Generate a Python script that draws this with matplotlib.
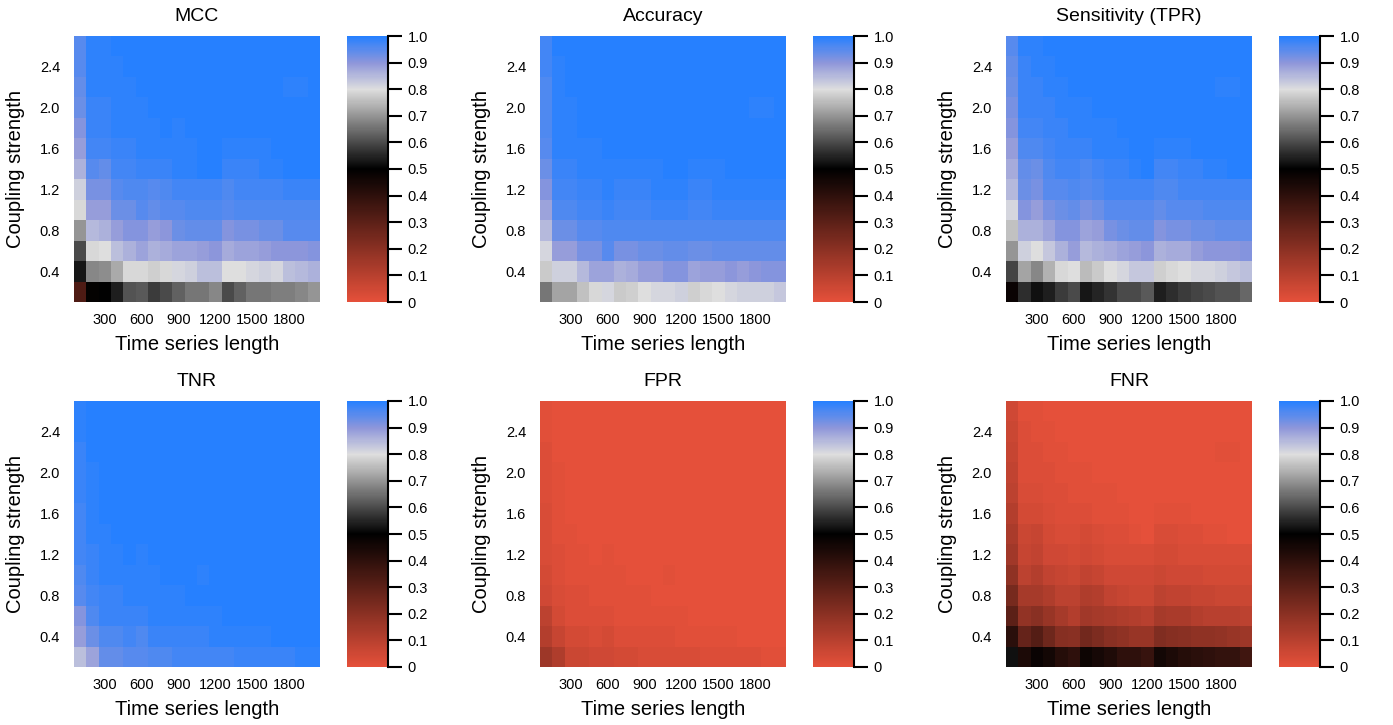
import numpy as np
import matplotlib
matplotlib.use("Agg")
import matplotlib.pyplot as plt
from matplotlib.colors import LinearSegmentedColormap

plt.rcParams['font.family'] = ['Liberation Sans', 'DejaVu Sans']

# time series length (columns) and coupling strength (rows)
lengths = [100, 200, 300, 400, 500, 600, 700, 800, 900, 1000,
           1100, 1200, 1300, 1400, 1500, 1600, 1700, 1800, 1900, 2000]
coupling = [0.2, 0.4, 0.6, 0.8, 1.0, 1.2, 1.4, 1.6, 1.8, 2.0, 2.2, 2.4, 2.6]
xtick_vals = [300, 600, 900, 1200, 1500, 1800]
ytick_vals = [0.4, 0.8, 1.2, 1.6, 2.0, 2.4]
cbar_ticks = [0, 0.1, 0.2, 0.3, 0.4, 0.5, 0.6, 0.7, 0.8, 0.9, 1.0]
cbar_labels = ['0', '0.1', '0.2', '0.3', '0.4', '0.5', '0.6', '0.7', '0.8', '0.9', '1.0']

# rows listed top (coupling 2.6) to bottom (coupling 0.2)
mcc = [
    [0.95, 0.99, 0.99, 1.00, 1.00, 1.00, 1.00, 1.00, 1.00, 1.00, 1.00, 1.00, 1.00, 1.00, 1.00, 1.00, 1.00, 1.00, 1.00, 1.00],
    [0.95, 0.99, 0.99, 0.99, 1.00, 1.00, 1.00, 1.00, 1.00, 1.00, 1.00, 1.00, 1.00, 1.00, 1.00, 1.00, 1.00, 1.00, 1.00, 1.00],
    [0.94, 0.99, 0.99, 0.99, 0.99, 1.00, 1.00, 1.00, 1.00, 1.00, 1.00, 1.00, 1.00, 1.00, 1.00, 1.00, 1.00, 0.99, 0.99, 1.00],
    [0.93, 0.98, 0.98, 0.99, 0.99, 0.99, 1.00, 1.00, 1.00, 1.00, 1.00, 1.00, 1.00, 1.00, 1.00, 1.00, 1.00, 1.00, 1.00, 1.00],
    [0.91, 0.98, 0.98, 0.99, 0.99, 0.99, 0.99, 1.00, 0.99, 1.00, 1.00, 1.00, 1.00, 1.00, 1.00, 1.00, 1.00, 1.00, 1.00, 1.00],
    [0.89, 0.97, 0.97, 0.98, 0.98, 0.99, 0.99, 0.99, 0.99, 0.99, 1.00, 1.00, 0.99, 0.99, 0.99, 0.99, 1.00, 1.00, 1.00, 1.00],
    [0.86, 0.95, 0.94, 0.97, 0.97, 0.98, 0.98, 0.98, 0.99, 0.99, 1.00, 1.00, 0.98, 0.98, 0.98, 0.99, 0.99, 1.00, 1.00, 1.00],
    [0.82, 0.92, 0.92, 0.95, 0.96, 0.96, 0.95, 0.96, 0.97, 0.97, 0.97, 0.97, 0.96, 0.97, 0.97, 0.97, 0.97, 0.98, 0.98, 0.98],
    [0.79, 0.89, 0.89, 0.93, 0.93, 0.95, 0.94, 0.95, 0.95, 0.96, 0.96, 0.96, 0.95, 0.96, 0.96, 0.96, 0.96, 0.96, 0.96, 0.96],
    [0.70, 0.85, 0.86, 0.89, 0.91, 0.91, 0.89, 0.90, 0.93, 0.94, 0.94, 0.94, 0.91, 0.92, 0.92, 0.93, 0.93, 0.95, 0.95, 0.95],
    [0.60, 0.79, 0.80, 0.84, 0.86, 0.88, 0.86, 0.87, 0.88, 0.88, 0.89, 0.90, 0.87, 0.88, 0.88, 0.89, 0.90, 0.90, 0.90, 0.91],
    [0.53, 0.68, 0.69, 0.73, 0.79, 0.79, 0.78, 0.79, 0.81, 0.82, 0.84, 0.84, 0.80, 0.80, 0.81, 0.82, 0.81, 0.84, 0.85, 0.86],
    [0.33, 0.49, 0.50, 0.54, 0.61, 0.62, 0.58, 0.60, 0.63, 0.66, 0.66, 0.68, 0.60, 0.63, 0.66, 0.66, 0.67, 0.67, 0.68, 0.70],
]

accuracy = [
    [0.97, 1.00, 1.00, 1.00, 1.00, 1.00, 1.00, 1.00, 1.00, 1.00, 1.00, 1.00, 1.00, 1.00, 1.00, 1.00, 1.00, 1.00, 1.00, 1.00],
    [0.97, 0.99, 1.00, 1.00, 1.00, 1.00, 1.00, 1.00, 1.00, 1.00, 1.00, 1.00, 1.00, 1.00, 1.00, 1.00, 1.00, 1.00, 1.00, 1.00],
    [0.96, 0.99, 1.00, 1.00, 1.00, 1.00, 1.00, 1.00, 1.00, 1.00, 1.00, 1.00, 1.00, 1.00, 1.00, 1.00, 1.00, 1.00, 1.00, 1.00],
    [0.96, 0.99, 0.99, 1.00, 1.00, 1.00, 1.00, 1.00, 1.00, 1.00, 1.00, 1.00, 1.00, 1.00, 1.00, 1.00, 1.00, 0.99, 0.99, 1.00],
    [0.96, 0.99, 0.99, 1.00, 1.00, 1.00, 1.00, 1.00, 1.00, 1.00, 1.00, 1.00, 1.00, 1.00, 1.00, 1.00, 1.00, 1.00, 1.00, 1.00],
    [0.95, 0.99, 0.99, 0.99, 0.99, 1.00, 1.00, 1.00, 1.00, 1.00, 1.00, 1.00, 1.00, 1.00, 1.00, 1.00, 1.00, 1.00, 1.00, 1.00],
    [0.93, 0.98, 0.98, 0.99, 0.99, 0.99, 0.99, 0.99, 0.99, 0.99, 1.00, 1.00, 0.99, 0.99, 0.99, 1.00, 1.00, 1.00, 1.00, 1.00],
    [0.91, 0.97, 0.97, 0.98, 0.98, 0.99, 0.98, 0.98, 0.98, 0.99, 0.99, 0.99, 0.98, 0.98, 0.99, 0.99, 0.99, 0.99, 0.99, 0.99],
    [0.88, 0.96, 0.96, 0.97, 0.97, 0.98, 0.97, 0.97, 0.97, 0.98, 0.98, 0.98, 0.97, 0.97, 0.98, 0.98, 0.98, 0.98, 0.98, 0.98],
    [0.85, 0.93, 0.93, 0.95, 0.95, 0.96, 0.96, 0.96, 0.96, 0.96, 0.96, 0.96, 0.96, 0.96, 0.96, 0.96, 0.96, 0.96, 0.96, 0.96],
    [0.81, 0.89, 0.89, 0.92, 0.92, 0.95, 0.92, 0.92, 0.93, 0.93, 0.94, 0.94, 0.93, 0.93, 0.94, 0.94, 0.94, 0.94, 0.94, 0.94],
    [0.77, 0.82, 0.82, 0.85, 0.88, 0.88, 0.86, 0.87, 0.89, 0.89, 0.91, 0.91, 0.88, 0.89, 0.89, 0.90, 0.89, 0.90, 0.91, 0.91],
    [0.66, 0.72, 0.72, 0.76, 0.79, 0.81, 0.77, 0.78, 0.80, 0.81, 0.81, 0.82, 0.78, 0.79, 0.80, 0.81, 0.82, 0.82, 0.82, 0.83],
]

tpr = [
    [0.95, 0.99, 0.99, 1.00, 1.00, 1.00, 1.00, 1.00, 1.00, 1.00, 1.00, 1.00, 1.00, 1.00, 1.00, 1.00, 1.00, 1.00, 1.00, 1.00],
    [0.94, 0.98, 0.99, 0.99, 1.00, 1.00, 1.00, 1.00, 1.00, 1.00, 1.00, 1.00, 1.00, 1.00, 1.00, 1.00, 1.00, 1.00, 1.00, 1.00],
    [0.93, 0.98, 0.98, 0.99, 0.99, 1.00, 1.00, 1.00, 1.00, 1.00, 1.00, 1.00, 1.00, 1.00, 1.00, 1.00, 1.00, 0.99, 0.99, 1.00],
    [0.92, 0.98, 0.98, 0.98, 0.99, 0.99, 0.99, 1.00, 1.00, 1.00, 1.00, 1.00, 1.00, 1.00, 1.00, 1.00, 1.00, 1.00, 1.00, 1.00],
    [0.91, 0.97, 0.97, 0.98, 0.98, 0.99, 0.99, 0.99, 0.99, 1.00, 1.00, 1.00, 1.00, 1.00, 1.00, 1.00, 1.00, 1.00, 1.00, 1.00],
    [0.89, 0.96, 0.96, 0.97, 0.98, 0.98, 0.98, 0.99, 0.99, 0.99, 1.00, 1.00, 0.99, 0.99, 0.99, 1.00, 1.00, 1.00, 1.00, 1.00],
    [0.87, 0.94, 0.93, 0.96, 0.97, 0.97, 0.96, 0.97, 0.98, 0.98, 0.99, 1.00, 0.97, 0.97, 0.98, 0.98, 0.99, 0.99, 1.00, 1.00],
    [0.85, 0.93, 0.92, 0.95, 0.95, 0.96, 0.95, 0.96, 0.97, 0.97, 0.97, 0.97, 0.96, 0.96, 0.97, 0.97, 0.97, 0.97, 0.97, 0.97],
    [0.81, 0.91, 0.89, 0.92, 0.93, 0.94, 0.92, 0.93, 0.95, 0.95, 0.95, 0.95, 0.94, 0.95, 0.95, 0.95, 0.96, 0.96, 0.96, 0.96],
    [0.76, 0.86, 0.86, 0.88, 0.91, 0.91, 0.88, 0.89, 0.92, 0.93, 0.94, 0.94, 0.91, 0.92, 0.92, 0.93, 0.93, 0.94, 0.94, 0.94],
    [0.70, 0.82, 0.80, 0.83, 0.86, 0.89, 0.85, 0.86, 0.87, 0.88, 0.89, 0.90, 0.86, 0.87, 0.87, 0.89, 0.90, 0.90, 0.90, 0.91],
    [0.59, 0.72, 0.68, 0.74, 0.79, 0.80, 0.75, 0.77, 0.80, 0.81, 0.83, 0.83, 0.78, 0.79, 0.80, 0.81, 0.81, 0.82, 0.83, 0.84],
    [0.48, 0.56, 0.52, 0.54, 0.58, 0.60, 0.53, 0.55, 0.57, 0.60, 0.60, 0.62, 0.54, 0.56, 0.58, 0.59, 0.60, 0.61, 0.61, 0.64],
]

tnr = [
    [0.99, 1.00, 1.00, 1.00, 1.00, 1.00, 1.00, 1.00, 1.00, 1.00, 1.00, 1.00, 1.00, 1.00, 1.00, 1.00, 1.00, 1.00, 1.00, 1.00],
    [0.99, 1.00, 1.00, 1.00, 1.00, 1.00, 1.00, 1.00, 1.00, 1.00, 1.00, 1.00, 1.00, 1.00, 1.00, 1.00, 1.00, 1.00, 1.00, 1.00],
    [0.98, 1.00, 1.00, 1.00, 1.00, 1.00, 1.00, 1.00, 1.00, 1.00, 1.00, 1.00, 1.00, 1.00, 1.00, 1.00, 1.00, 1.00, 1.00, 1.00],
    [0.98, 0.99, 1.00, 1.00, 1.00, 1.00, 1.00, 1.00, 1.00, 1.00, 1.00, 1.00, 1.00, 1.00, 1.00, 1.00, 1.00, 1.00, 1.00, 1.00],
    [0.98, 0.99, 1.00, 1.00, 1.00, 1.00, 1.00, 1.00, 1.00, 1.00, 1.00, 1.00, 1.00, 1.00, 1.00, 1.00, 1.00, 1.00, 1.00, 1.00],
    [0.97, 0.99, 1.00, 1.00, 1.00, 1.00, 1.00, 1.00, 1.00, 1.00, 1.00, 1.00, 1.00, 1.00, 1.00, 1.00, 1.00, 1.00, 1.00, 1.00],
    [0.97, 0.99, 0.99, 1.00, 1.00, 1.00, 1.00, 1.00, 1.00, 1.00, 1.00, 1.00, 1.00, 1.00, 1.00, 1.00, 1.00, 1.00, 1.00, 1.00],
    [0.97, 0.98, 0.99, 0.99, 1.00, 0.99, 1.00, 1.00, 1.00, 1.00, 1.00, 1.00, 1.00, 1.00, 1.00, 1.00, 1.00, 1.00, 1.00, 1.00],
    [0.96, 0.98, 0.99, 0.99, 0.99, 0.99, 0.99, 1.00, 1.00, 1.00, 0.99, 1.00, 1.00, 1.00, 1.00, 1.00, 1.00, 1.00, 1.00, 1.00],
    [0.95, 0.97, 0.98, 0.98, 0.99, 0.99, 0.99, 0.99, 0.99, 1.00, 1.00, 1.00, 1.00, 1.00, 1.00, 1.00, 1.00, 1.00, 1.00, 1.00],
    [0.91, 0.96, 0.98, 0.98, 0.98, 0.98, 0.99, 0.99, 0.99, 0.99, 0.99, 0.99, 1.00, 1.00, 1.00, 1.00, 1.00, 1.00, 1.00, 1.00],
    [0.89, 0.93, 0.96, 0.96, 0.97, 0.96, 0.98, 0.98, 0.98, 0.98, 0.98, 0.99, 0.99, 0.99, 0.99, 0.99, 1.00, 1.00, 1.00, 1.00],
    [0.84, 0.88, 0.94, 0.94, 0.95, 0.95, 0.96, 0.96, 0.97, 0.97, 0.97, 0.97, 0.97, 0.98, 0.98, 0.98, 0.98, 0.98, 0.99, 0.99],
]

fpr = [
    [0.01, 0.00, 0.00, 0.00, 0.00, 0.00, 0.00, 0.00, 0.00, 0.00, 0.00, 0.00, 0.00, 0.00, 0.00, 0.00, 0.00, 0.00, 0.00, 0.00],
    [0.01, 0.00, 0.00, 0.00, 0.00, 0.00, 0.00, 0.00, 0.00, 0.00, 0.00, 0.00, 0.00, 0.00, 0.00, 0.00, 0.00, 0.00, 0.00, 0.00],
    [0.02, 0.00, 0.00, 0.00, 0.00, 0.00, 0.00, 0.00, 0.00, 0.00, 0.00, 0.00, 0.00, 0.00, 0.00, 0.00, 0.00, 0.00, 0.00, 0.00],
    [0.02, 0.01, 0.00, 0.00, 0.00, 0.00, 0.00, 0.00, 0.00, 0.00, 0.00, 0.00, 0.00, 0.00, 0.00, 0.00, 0.00, 0.00, 0.00, 0.00],
    [0.02, 0.01, 0.00, 0.00, 0.00, 0.00, 0.00, 0.00, 0.00, 0.00, 0.00, 0.00, 0.00, 0.00, 0.00, 0.00, 0.00, 0.00, 0.00, 0.00],
    [0.03, 0.01, 0.00, 0.00, 0.00, 0.00, 0.00, 0.00, 0.00, 0.00, 0.00, 0.00, 0.00, 0.00, 0.00, 0.00, 0.00, 0.00, 0.00, 0.00],
    [0.03, 0.01, 0.01, 0.00, 0.00, 0.00, 0.00, 0.00, 0.00, 0.00, 0.00, 0.00, 0.00, 0.00, 0.00, 0.00, 0.00, 0.00, 0.00, 0.00],
    [0.03, 0.02, 0.01, 0.01, 0.00, 0.01, 0.00, 0.00, 0.00, 0.00, 0.00, 0.00, 0.00, 0.00, 0.00, 0.00, 0.00, 0.00, 0.00, 0.00],
    [0.04, 0.02, 0.01, 0.01, 0.01, 0.01, 0.01, 0.00, 0.00, 0.00, 0.01, 0.00, 0.00, 0.00, 0.00, 0.00, 0.00, 0.00, 0.00, 0.00],
    [0.05, 0.03, 0.02, 0.02, 0.01, 0.01, 0.01, 0.01, 0.01, 0.00, 0.00, 0.00, 0.00, 0.00, 0.00, 0.00, 0.00, 0.00, 0.00, 0.00],
    [0.09, 0.04, 0.02, 0.02, 0.02, 0.02, 0.01, 0.01, 0.01, 0.01, 0.01, 0.01, 0.00, 0.00, 0.00, 0.00, 0.00, 0.00, 0.00, 0.00],
    [0.11, 0.07, 0.04, 0.04, 0.03, 0.04, 0.02, 0.02, 0.02, 0.02, 0.02, 0.01, 0.01, 0.01, 0.01, 0.01, 0.00, 0.00, 0.00, 0.00],
    [0.16, 0.12, 0.06, 0.06, 0.05, 0.05, 0.04, 0.04, 0.03, 0.03, 0.03, 0.03, 0.03, 0.02, 0.02, 0.02, 0.02, 0.02, 0.01, 0.01],
]

fnr = [
    [0.05, 0.01, 0.01, 0.00, 0.00, 0.00, 0.00, 0.00, 0.00, 0.00, 0.00, 0.00, 0.00, 0.00, 0.00, 0.00, 0.00, 0.00, 0.00, 0.00],
    [0.06, 0.02, 0.01, 0.01, 0.00, 0.00, 0.00, 0.00, 0.00, 0.00, 0.00, 0.00, 0.00, 0.00, 0.00, 0.00, 0.00, 0.00, 0.00, 0.00],
    [0.07, 0.02, 0.02, 0.01, 0.01, 0.00, 0.00, 0.00, 0.00, 0.00, 0.00, 0.00, 0.00, 0.00, 0.00, 0.00, 0.00, 0.01, 0.01, 0.00],
    [0.08, 0.02, 0.02, 0.02, 0.01, 0.01, 0.01, 0.00, 0.00, 0.00, 0.00, 0.00, 0.00, 0.00, 0.00, 0.00, 0.00, 0.00, 0.00, 0.00],
    [0.09, 0.03, 0.03, 0.02, 0.02, 0.01, 0.01, 0.01, 0.01, 0.00, 0.00, 0.00, 0.00, 0.00, 0.00, 0.00, 0.00, 0.00, 0.00, 0.00],
    [0.11, 0.04, 0.04, 0.03, 0.02, 0.02, 0.02, 0.01, 0.01, 0.01, 0.00, 0.00, 0.01, 0.01, 0.01, 0.00, 0.00, 0.00, 0.00, 0.00],
    [0.13, 0.06, 0.07, 0.04, 0.03, 0.03, 0.04, 0.03, 0.02, 0.02, 0.01, 0.00, 0.03, 0.03, 0.02, 0.02, 0.01, 0.01, 0.00, 0.00],
    [0.15, 0.07, 0.08, 0.05, 0.05, 0.04, 0.05, 0.04, 0.03, 0.03, 0.03, 0.03, 0.04, 0.04, 0.03, 0.03, 0.03, 0.03, 0.03, 0.03],
    [0.19, 0.09, 0.11, 0.08, 0.07, 0.06, 0.08, 0.07, 0.05, 0.05, 0.05, 0.05, 0.06, 0.05, 0.05, 0.05, 0.04, 0.04, 0.04, 0.04],
    [0.24, 0.14, 0.14, 0.12, 0.09, 0.09, 0.12, 0.11, 0.08, 0.07, 0.06, 0.06, 0.09, 0.08, 0.08, 0.07, 0.07, 0.06, 0.06, 0.06],
    [0.30, 0.18, 0.20, 0.17, 0.14, 0.11, 0.15, 0.14, 0.13, 0.12, 0.11, 0.10, 0.14, 0.13, 0.13, 0.11, 0.10, 0.10, 0.10, 0.09],
    [0.41, 0.28, 0.32, 0.26, 0.21, 0.20, 0.25, 0.23, 0.20, 0.19, 0.17, 0.17, 0.22, 0.21, 0.20, 0.19, 0.19, 0.18, 0.17, 0.16],
    [0.52, 0.44, 0.48, 0.46, 0.42, 0.40, 0.47, 0.45, 0.43, 0.40, 0.40, 0.38, 0.46, 0.44, 0.42, 0.41, 0.40, 0.39, 0.39, 0.36],
]

titles = ['MCC', 'Accuracy', 'Sensitivity (TPR)', 'TNR', 'FPR', 'FNR']
panels = [mcc, accuracy, tpr, tnr, fpr, fnr]

cmap = LinearSegmentedColormap.from_list('redblackblue', [
    (0.0, '#E5503A'), (0.5, '#000000'), (0.8, '#DEDEDE'),
    (0.9, '#8E96DA'), (1.0, '#2680FF')])

W, H = 1393, 725
fig = plt.figure(figsize=(W / 100, H / 100), dpi=100)

lefts = [74, 540, 1006]
tops = [36, 401]
hm_w, hm_h = 246, 266

for k, (title, data) in enumerate(zip(titles, panels)):
    left = lefts[k % 3]
    top = tops[k // 3]
    ax = fig.add_axes([left / W, (H - top - hm_h) / H, hm_w / W, hm_h / H])
    mesh = ax.pcolormesh(lengths, coupling[::-1], np.array(data), cmap=cmap,
                         vmin=0, vmax=1, shading='nearest')
    ax.set_xlim(50, 2050)
    ax.set_ylim(0.1, 2.7)
    ax.set_xticks(xtick_vals)
    ax.set_yticks(ytick_vals)
    ax.set_yticklabels([f'{v:.1f}' for v in ytick_vals])
    ax.tick_params(axis='both', length=0, labelsize=10.5)
    ax.tick_params(axis='x', pad=8)
    ax.tick_params(axis='y', pad=10)
    for s in ax.spines.values():
        s.set_visible(False)
    ax.set_title(title, fontsize=14, pad=11)
    ax.set_xlabel('Time series length', fontsize=14.5)
    ax.set_ylabel('Coupling strength', fontsize=14.5)
    ax.xaxis.set_label_coords(0.5, -0.125)
    ax.yaxis.set_label_coords(-0.2, 0.5)

    cax = fig.add_axes([(left + 273) / W, (H - top - hm_h) / H, 41 / W, hm_h / H])
    cb = fig.colorbar(mesh, cax=cax, ticks=cbar_ticks)
    cb.ax.set_yticklabels(cbar_labels)
    cb.outline.set_visible(False)
    cax.spines['right'].set_visible(True)
    cax.spines['right'].set_linewidth(1.5)
    cax.tick_params(length=10, width=1.5, labelsize=10.5, pad=4)

fig.savefig('out.png', dpi=100)
